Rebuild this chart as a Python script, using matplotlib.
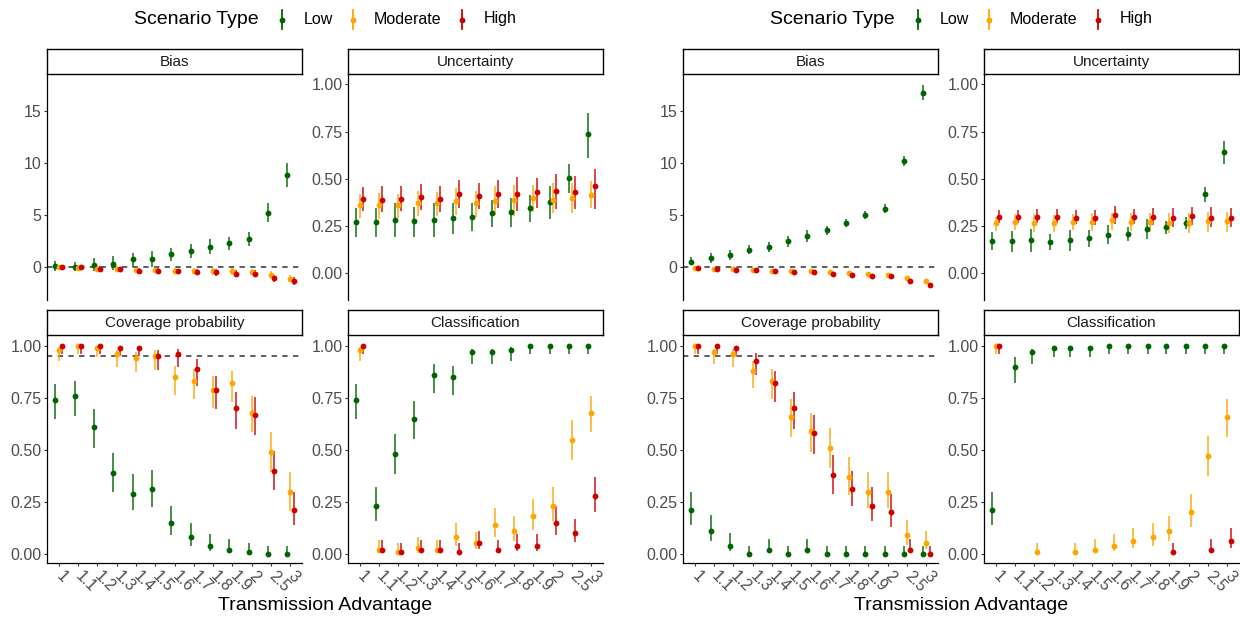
import numpy as np
import matplotlib
matplotlib.use('Agg')
import matplotlib.pyplot as plt
from matplotlib.lines import Line2D

plt.rcParams['font.family'] = ['Liberation Sans', 'DejaVu Sans']

# ── Data ───────────────────────────────────────────────────────────────────
x_labels = ['1', '1.1', '1.2', '1.3', '1.4', '1.5', '1.6', '1.7', '1.8', '1.9', '2', '2.5', '3']
scenarios = ['Low', 'Moderate', 'High']
colours = ['#006400', '#FFA500', '#CD0000']
metrics = ['Bias', 'Uncertainty', 'Coverage probability', 'Classification']

# rows are (estimate, lower, upper); None where no estimate exists
# first study
a_bias_low = [(0.1, -0.4, 0.55), (0.0, -0.4, 0.5), (0.2, -0.4, 0.85), (0.3, -0.3, 1.0),
              (0.7, 0.0, 1.35), (0.75, 0.0, 1.5), (1.2, 0.6, 1.85), (1.5, 0.85, 2.2),
              (1.9, 1.2, 2.65), (2.3, 1.65, 2.85), (2.7, 2.0, 3.3), (5.2, 4.35, 6.1),
              (8.8, 7.65, 9.95)]
a_bias_mod = [(-0.05, -0.3, 0.2), (-0.1, -0.35, 0.15), (-0.2, -0.45, 0.05), (-0.2, -0.45, 0.05),
              (-0.35, -0.6, -0.1), (-0.35, -0.6, -0.1), (-0.4, -0.65, -0.15), (-0.4, -0.7, -0.15),
              (-0.45, -0.75, -0.15), (-0.45, -0.75, -0.15), (-0.5, -0.8, -0.2), (-0.75, -1.1, -0.45),
              (-1.15, -1.5, -0.8)]
a_bias_high = [(0.0, -0.2, 0.2), (-0.05, -0.3, 0.2), (-0.2, -0.45, 0.05), (-0.25, -0.5, 0.0),
               (-0.4, -0.65, -0.15), (-0.4, -0.65, -0.15), (-0.45, -0.7, -0.2), (-0.5, -0.75, -0.2),
               (-0.55, -0.85, -0.25), (-0.65, -0.95, -0.35), (-0.65, -0.95, -0.35), (-1.1, -1.45, -0.75),
               (-1.4, -1.8, -1.0)]

a_unc_low = [(0.27, 0.194, 0.344), (0.27, 0.19, 0.344), (0.285, 0.194, 0.37), (0.275, 0.194, 0.35),
             (0.285, 0.194, 0.37), (0.295, 0.206, 0.374), (0.30, 0.226, 0.374), (0.32, 0.247, 0.388),
             (0.325, 0.247, 0.40), (0.345, 0.27, 0.414), (0.38, 0.29, 0.464), (0.505, 0.425, 0.577),
             (0.735, 0.608, 0.85)]
a_unc_mod = [(0.36, 0.291, 0.418), (0.36, 0.287, 0.423), (0.36, 0.295, 0.42), (0.37, 0.303, 0.437),
             (0.37, 0.305, 0.43), (0.385, 0.31, 0.45), (0.37, 0.30, 0.436), (0.385, 0.31, 0.46),
             (0.39, 0.303, 0.467), (0.40, 0.326, 0.47), (0.39, 0.317, 0.476), (0.40, 0.32, 0.48),
             (0.415, 0.344, 0.49)]
a_unc_high = [(0.395, 0.33, 0.457), (0.39, 0.326, 0.46), (0.395, 0.33, 0.464), (0.405, 0.335, 0.473),
              (0.395, 0.323, 0.464), (0.42, 0.344, 0.494), (0.41, 0.34, 0.48), (0.42, 0.347, 0.494),
              (0.42, 0.33, 0.51), (0.43, 0.344, 0.506), (0.435, 0.338, 0.525), (0.43, 0.34, 0.515),
              (0.46, 0.342, 0.55)]

a_cov_low = [(0.74, 0.647, 0.815), (0.76, 0.665, 0.83), (0.61, 0.51, 0.697), (0.39, 0.30, 0.487),
             (0.29, 0.21, 0.385), (0.31, 0.224, 0.404), (0.15, 0.09, 0.232), (0.08, 0.04, 0.147),
             (0.04, 0.016, 0.096), (0.02, 0.008, 0.07), (0.01, 0.003, 0.054), (0.0, 0.0, 0.038),
             (0.0, 0.0, 0.038)]
a_cov_mod = [(0.98, 0.93, 0.995), (1.0, 0.96, 1.0), (0.99, 0.945, 1.0), (0.96, 0.90, 0.98),
             (0.94, 0.873, 0.97), (0.95, 0.885, 0.98), (0.85, 0.764, 0.905), (0.83, 0.744, 0.888),
             (0.79, 0.70, 0.855), (0.82, 0.73, 0.88), (0.68, 0.585, 0.76), (0.49, 0.393, 0.585),
             (0.30, 0.208, 0.393)]
a_cov_high = [(1.0, 0.96, 1.0), (1.0, 0.96, 1.0), (1.0, 0.96, 1.0), (0.99, 0.95, 1.0),
              (0.99, 0.95, 1.0), (0.95, 0.885, 0.98), (0.96, 0.90, 0.985), (0.89, 0.81, 0.936),
              (0.79, 0.697, 0.855), (0.70, 0.60, 0.78), (0.67, 0.572, 0.753), (0.40, 0.308, 0.497),
              (0.21, 0.14, 0.30)]

a_cls_low = [(0.74, 0.647, 0.815), (0.23, 0.16, 0.32), (0.48, 0.383, 0.575), (0.65, 0.551, 0.735),
             (0.86, 0.776, 0.913), (0.85, 0.764, 0.904), (0.97, 0.913, 0.985), (0.97, 0.913, 0.985),
             (0.98, 0.928, 0.994), (1.0, 0.96, 1.0), (1.0, 0.96, 1.0), (1.0, 0.96, 1.0),
             (1.0, 0.96, 1.0)]
a_cls_mod = [(0.98, 0.928, 0.995), (0.02, 0.006, 0.067), (0.01, 0.0, 0.053), (0.03, 0.006, 0.083),
             (0.02, 0.006, 0.067), (0.08, 0.04, 0.147), (0.05, 0.022, 0.107), (0.14, 0.083, 0.22),
             (0.11, 0.062, 0.184), (0.18, 0.115, 0.264), (0.23, 0.16, 0.32), (0.55, 0.452, 0.643),
             (0.68, 0.585, 0.76)]
a_cls_high = [(1.0, 0.96, 1.0), (0.02, 0.006, 0.067), (0.01, 0.0, 0.053), (0.02, 0.006, 0.067),
              (0.02, 0.006, 0.067), (0.01, 0.0, 0.053), (0.05, 0.022, 0.11), (0.02, 0.006, 0.067),
              (0.04, 0.016, 0.096), (0.04, 0.016, 0.096), (0.15, 0.09, 0.23), (0.10, 0.055, 0.17),
              (0.28, 0.20, 0.37)]

# second study
b_bias_low = [(0.5, 0.13, 0.9), (0.85, 0.4, 1.3), (1.15, 0.65, 1.6), (1.6, 1.2, 2.05),
              (1.9, 1.4, 2.4), (2.5, 1.9, 2.95), (3.0, 2.4, 3.5), (3.5, 3.1, 3.9),
              (4.2, 3.85, 4.55), (5.0, 4.6, 5.35), (5.6, 5.15, 6.05), (10.2, 9.7, 10.7),
              (16.7, 16.0, 17.45)]
b_bias_mod = [(-0.1, -0.25, 0.05), (-0.2, -0.35, -0.05), (-0.25, -0.4, -0.1), (-0.3, -0.45, -0.15),
              (-0.4, -0.55, -0.25), (-0.4, -0.55, -0.25), (-0.45, -0.6, -0.3), (-0.55, -0.7, -0.4),
              (-0.6, -0.75, -0.45), (-0.65, -0.8, -0.5), (-0.75, -0.9, -0.6), (-1.05, -1.25, -0.85),
              (-1.4, -1.6, -1.2)]
b_bias_high = [(-0.15, -0.3, 0.0), (-0.25, -0.4, -0.1), (-0.3, -0.45, -0.15), (-0.35, -0.5, -0.2),
               (-0.45, -0.6, -0.3), (-0.5, -0.65, -0.35), (-0.55, -0.7, -0.4), (-0.65, -0.8, -0.5),
               (-0.75, -0.9, -0.6), (-0.85, -1.0, -0.7), (-0.9, -1.05, -0.75), (-1.35, -1.55, -1.15),
               (-1.8, -2.0, -1.6)]

b_unc_low = [(0.17, 0.123, 0.217), (0.17, 0.111, 0.226), (0.175, 0.111, 0.236), (0.165, 0.123, 0.206),
             (0.175, 0.116, 0.231), (0.185, 0.141, 0.229), (0.205, 0.153, 0.256), (0.21, 0.169, 0.247),
             (0.235, 0.18, 0.287), (0.245, 0.21, 0.275), (0.265, 0.233, 0.296), (0.42, 0.376, 0.458),
             (0.64, 0.577, 0.70)]
b_unc_mod = [(0.265, 0.226, 0.30), (0.27, 0.229, 0.314), (0.265, 0.22, 0.312), (0.265, 0.22, 0.309),
             (0.27, 0.229, 0.314), (0.27, 0.224, 0.317), (0.28, 0.229, 0.321), (0.27, 0.226, 0.317),
             (0.27, 0.22, 0.317), (0.265, 0.212, 0.321), (0.265, 0.212, 0.317), (0.275, 0.217, 0.323),
             (0.275, 0.217, 0.326)]
b_unc_high = [(0.30, 0.268, 0.335), (0.30, 0.265, 0.335), (0.30, 0.265, 0.339), (0.30, 0.265, 0.339),
              (0.295, 0.261, 0.335), (0.295, 0.256, 0.335), (0.31, 0.259, 0.356), (0.30, 0.261, 0.34),
              (0.30, 0.256, 0.344), (0.295, 0.247, 0.344), (0.305, 0.256, 0.349), (0.295, 0.243, 0.349),
              (0.295, 0.247, 0.344)]

b_cov_low = [(0.21, 0.14, 0.298), (0.11, 0.064, 0.188), (0.04, 0.016, 0.10), (0.0, 0.0, 0.038),
             (0.02, 0.006, 0.07), (0.0, 0.0, 0.038), (0.02, 0.006, 0.07), (0.0, 0.0, 0.038),
             (0.0, 0.0, 0.038), (0.0, 0.0, 0.038), (0.0, 0.0, 0.038), (0.0, 0.0, 0.038),
             (0.0, 0.0, 0.038)]
b_cov_mod = [(1.0, 0.96, 1.0), (0.97, 0.913, 0.985), (0.96, 0.90, 0.985), (0.88, 0.80, 0.93),
             (0.83, 0.744, 0.888), (0.66, 0.564, 0.745), (0.59, 0.49, 0.68), (0.51, 0.412, 0.604),
             (0.37, 0.284, 0.465), (0.30, 0.22, 0.393), (0.30, 0.22, 0.393), (0.09, 0.043, 0.163),
             (0.05, 0.022, 0.11)]
b_cov_high = [(1.0, 0.96, 1.0), (1.0, 0.96, 1.0), (0.99, 0.95, 1.0), (0.93, 0.86, 0.965),
              (0.82, 0.73, 0.88), (0.70, 0.60, 0.78), (0.58, 0.48, 0.67), (0.38, 0.29, 0.476),
              (0.31, 0.228, 0.40), (0.23, 0.16, 0.32), (0.20, 0.13, 0.287), (0.02, 0.006, 0.07),
              (0.0, 0.0, 0.038)]

b_cls_low = [(0.21, 0.14, 0.298), (0.90, 0.824, 0.945), (0.97, 0.913, 0.985), (0.99, 0.945, 1.0),
             (0.99, 0.945, 1.0), (0.99, 0.945, 1.0), (1.0, 0.96, 1.0), (1.0, 0.96, 1.0),
             (1.0, 0.96, 1.0), (1.0, 0.96, 1.0), (1.0, 0.96, 1.0), (1.0, 0.96, 1.0),
             (1.0, 0.96, 1.0)]
b_cls_mod = [(1.0, 0.96, 1.0), None, (0.01, 0.0, 0.054), None,
             (0.01, 0.0, 0.054), (0.02, 0.006, 0.07), (0.04, 0.016, 0.096), (0.06, 0.027, 0.125),
             (0.08, 0.04, 0.147), (0.11, 0.062, 0.184), (0.20, 0.13, 0.287), (0.47, 0.375, 0.567),
             (0.66, 0.564, 0.745)]
b_cls_high = [(1.0, 0.96, 1.0), None, None, None,
              None, None, None, None,
              None, (0.01, 0.0, 0.054), None, (0.02, 0.006, 0.07),
              (0.06, 0.027, 0.125)]

studies = [
    {'Bias': [a_bias_low, a_bias_mod, a_bias_high],
     'Uncertainty': [a_unc_low, a_unc_mod, a_unc_high],
     'Coverage probability': [a_cov_low, a_cov_mod, a_cov_high],
     'Classification': [a_cls_low, a_cls_mod, a_cls_high]},
    {'Bias': [b_bias_low, b_bias_mod, b_bias_high],
     'Uncertainty': [b_unc_low, b_unc_mod, b_unc_high],
     'Coverage probability': [b_cov_low, b_cov_mod, b_cov_high],
     'Classification': [b_cls_low, b_cls_mod, b_cls_high]},
]

# ── Layout (pixel boxes: left, top, right, bottom) ─────────────────────────
W, H = 1240, 620
DODGE = 0.5
HALF_SHIFT = 636
STRIP_H = 25
boxes = {
    'Bias': (47, 74, 302, 300),
    'Uncertainty': (348, 74, 603, 300),
    'Coverage probability': (47, 335, 302, 563),
    'Classification': (348, 335, 603, 563),
}
ylims = {
    'Bias': (-3.2, 18.55),
    'Uncertainty': (-0.141, 1.055),
    'Coverage probability': (-0.044, 1.053),
    'Classification': (-0.044, 1.053),
}
refs = {'Bias': 0.0, 'Coverage probability': 0.95}


def frac(l, t, r, b):
    return [l / W, 1 - b / H, (r - l) / W, (b - t) / H]


def draw_panel(ax, series, name, bottom_row):
    if name in refs:
        ax.axhline(refs[name], color='#333333', lw=1.1, dashes=(3.5, 3.5), zorder=1)
    for xi in range(len(x_labels)):
        present = [k for k in range(3) if series[k][xi] is not None]
        n = len(present)
        for j, k in enumerate(present):
            est, lo, hi = series[k][xi]
            xpos = xi - DODGE / 2 + (j + 0.5) * DODGE / n
            ax.vlines(xpos, lo, hi, color=colours[k], lw=1.35, alpha=0.75, zorder=2)
            ax.plot(xpos, est, 'o', color=colours[k], ms=4.2, mew=0, zorder=3)

    ax.set_xlim(-0.6, len(x_labels) - 0.4)
    ax.set_ylim(*ylims[name])
    if name == 'Bias':
        ax.set_yticks([0, 5, 10, 15])
        ax.set_yticklabels(['0', '5', '10', '15'])
    else:
        yt = [0, 0.25, 0.5, 0.75, 1.0]
        ax.set_yticks(yt)
        ax.set_yticklabels([f'{v:.2f}' for v in yt])

    for side in ['top', 'right']:
        ax.spines[side].set_visible(False)
    ax.spines['left'].set_linewidth(0.9)
    ax.tick_params(axis='y', length=2.5, width=0.8, color='#333333', pad=1.5,
                   labelsize=11.5, labelcolor='#4D4D4D')
    if bottom_row:
        ax.spines['bottom'].set_linewidth(0.9)
        ax.set_xticks(range(len(x_labels)))
        ax.set_xticklabels(x_labels, rotation=-45, ha='left', va='center',
                           rotation_mode='anchor')
        ax.tick_params(axis='x', length=2.5, width=0.8, color='#333333', pad=5,
                       labelsize=11.5, labelcolor='#4D4D4D')
    else:
        ax.spines['bottom'].set_visible(False)
        ax.set_xticks([])


def draw_strip(fig, box, label):
    l, t, r, b = box
    sax = fig.add_axes(frac(l, t - STRIP_H, r, t))
    sax.set_xticks([])
    sax.set_yticks([])
    for sp in sax.spines.values():
        sp.set_linewidth(1.0)
        sp.set_color('black')
    sax.text(0.5, 0.47, label, ha='center', va='center', fontsize=11,
             color='#1A1A1A', transform=sax.transAxes)


def draw_legend(fig, dx):
    fig.text((134 + dx) / W, 1 - 19 / H, 'Scenario Type', fontsize=14,
             ha='left', va='center', color='black')
    key_x = [282, 353, 462]
    text_x = [304, 374, 484]
    for k, lab in enumerate(scenarios):
        kx = (key_x[k] + dx) / W
        fig.add_artist(Line2D([kx, kx], [1 - 10 / H, 1 - 29 / H], color=colours[k],
                              lw=1.3, transform=fig.transFigure))
        fig.add_artist(Line2D([kx], [1 - 19.5 / H], marker='o', ms=4.2, mew=0,
                              color=colours[k], transform=fig.transFigure))
        fig.text((text_x[k] + dx) / W, 1 - 19 / H, lab, fontsize=11.5,
                 ha='left', va='center', color='black')


fig = plt.figure(figsize=(W / 100, H / 100), dpi=100)
fig.patch.set_facecolor('white')

for si, study in enumerate(studies):
    dx = si * HALF_SHIFT
    for name in metrics:
        l, t, r, b = boxes[name]
        box = (l + dx, t, r + dx, b)
        ax = fig.add_axes(frac(*box))
        draw_panel(ax, study[name], name, bottom_row=name in ('Coverage probability', 'Classification'))
        draw_strip(fig, box, name)
    fig.text((325 + dx) / W, 1 - 606 / H, 'Transmission Advantage', fontsize=14,
             ha='center', va='center', color='black')
    draw_legend(fig, dx)

fig.savefig('out.png', dpi=100, facecolor='white')
